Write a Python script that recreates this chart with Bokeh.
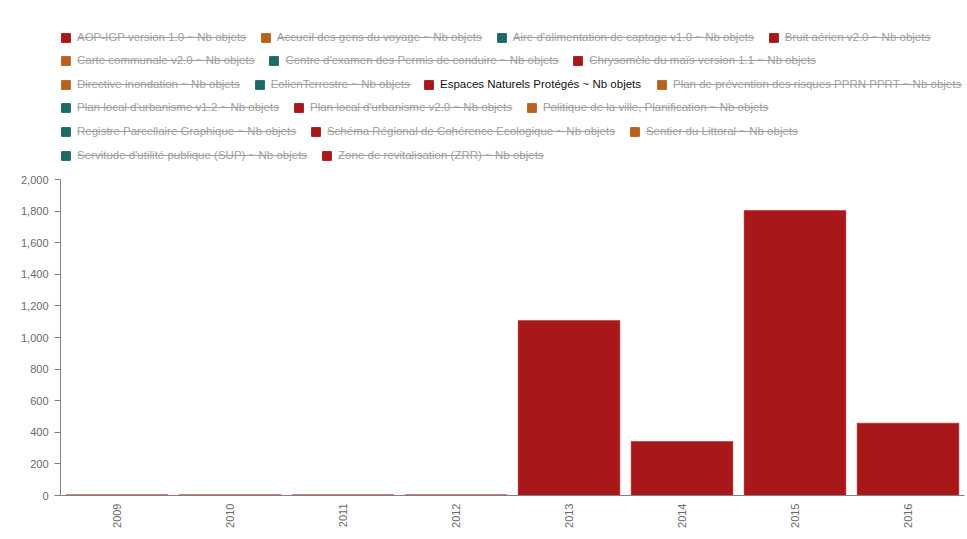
from bokeh.plotting import figure
from bokeh.layouts import column
from bokeh.models import (FactorRange, Legend, LegendItem, NumeralTickFormatter,
                          ColumnDataSource, SingleIntervalTicker, Range1d)
from bokeh.embed import file_html
from bokeh.resources import INLINE
import math

# ---- data ----
years = ["2009", "2010", "2011", "2012", "2013", "2014", "2015", "2016"]
espaces_values = [5, 5, 5, 5, 1108, 342, 1804, 458]

series_names = [
    "AOP-IGP version 1.0 ~ Nb objets",
    "Accueil des gens du voyage ~ Nb objets",
    "Aire d'alimentation de captage v1.0 ~ Nb objets",
    "Bruit aérien v2.0 ~ Nb objets",
    "Carte communale v2.0 ~ Nb objets",
    "Centre d'examen des Permis de conduire ~ Nb objets",
    "Chrysomèle du maïs version 1.1 ~ Nb objets",
    "Directive inondation ~ Nb objets",
    "EolienTerrestre ~ Nb objets",
    "Espaces Naturels Protégés ~ Nb objets",
    "Plan de prévention des risques PPRN PPRT ~ Nb objets",
    "Plan local d'urbanisme v1.2 ~ Nb objets",
    "Plan local d'urbanisme v2.0 ~ Nb objets",
    "Politique de la ville, Planification ~ Nb objets",
    "Registre Parcellaire Graphique ~ Nb objets",
    "Schéma Régional de Cohérence Ecologique ~ Nb objets",
    "Sentier du Littoral ~ Nb objets",
    "Servitude d'utilité publique (SUP) ~ Nb objets",
    "Zone de revitalisation (ZRR) ~ Nb objets",
]
visible_series = "Espaces Naturels Protégés ~ Nb objets"

palette = ["#a8181b", "#b8621f", "#1a6b69"]

# legend rows (as laid out in the reference)
legend_rows = [
    [0, 1, 2, 3],
    [4, 5, 6],
    [7, 8, 9, 10],
    [11, 12, 13],
    [14, 15, 16],
    [17, 18],
]

FONT = "Liberation Sans"
FS = 11.5
W = 966
LEG_H = 167
GLYPH_W, STANDOFF, SPACING = 11, 6, 14
GRAY = "#a0a0a0"

# Arial / Liberation Sans advance widths (1/1000 em) for strike-through lengths
_AW = {}
for ch in "abdeghnopqu0123456789":
    _AW[ch] = 556
for ch in "ckszvxy":
    _AW[ch] = 500
for ch in "fjt.,:; ":
    _AW[ch] = 278
_AW.update({"i": 222, "j": 222, "l": 222, "m": 833, "r": 333, "w": 722,
            "A": 667, "B": 667, "C": 722, "D": 722, "E": 667, "F": 611, "G": 778,
            "H": 722, "I": 278, "J": 500, "K": 667, "L": 556, "M": 833, "N": 722,
            "O": 778, "P": 667, "Q": 778, "R": 722, "S": 667, "T": 611, "U": 722,
            "V": 667, "W": 944, "X": 667, "Y": 667, "Z": 611, "-": 333, "~": 584,
            "'": 191, "(": 333, ")": 333, "é": 556, "è": 556, "ï": 222, "É": 667})


def text_w(s):
    return sum(_AW.get(c, 556) for c in s) * FS / 1000.0


# ---------- legend strip ----------
lf = figure(width=W, height=LEG_H, x_range=Range1d(0, 904), y_range=Range1d(0, LEG_H),
            output_backend="svg", toolbar_location=None,
            min_border=0, min_border_left=60, min_border_right=2,
            min_border_top=0, min_border_bottom=0)
lf.axis.visible = False
lf.grid.visible = False
lf.outline_line_color = None
lf.background_fill_color = "white"
lf.border_fill_color = "white"

leg_renderers = {}
for i, name in enumerate(series_names):
    color = palette[i % 3]
    if name == visible_series:
        src = ColumnDataSource(dict(x=years, top=[float("nan")] * len(years)))
    else:
        src = ColumnDataSource(dict(x=[float("nan")], top=[float("nan")]))
    leg_renderers[name] = lf.vbar(x="x", top="top", width=0.9, source=src,
                                  fill_color=color, line_color=color)

row_centers = [130, 107, 83, 60, 36, 12]  # px above the strip bottom
strike_x0, strike_x1, strike_y = [], [], []


def add_legend(idxs, x, yc, color, struck):
    items = [LegendItem(label=series_names[i], renderers=[leg_renderers[series_names[i]]])
             for i in idxs]
    lg = Legend(items=items, orientation="horizontal", location=(x, yc - 6),
                glyph_width=GLYPH_W, glyph_height=11, label_height=11,
                label_standoff=STANDOFF, spacing=SPACING, padding=0, margin=0,
                border_line_alpha=0, background_fill_alpha=0, label_text_font=FONT,
                label_text_font_size=f"{FS}px", label_text_color=color,
                click_policy="none")
    lf.add_layout(lg, "center")
    if struck:
        cx = x
        for i in idxs:
            t0 = cx + GLYPH_W + STANDOFF
            w = text_w(series_names[i])
            strike_x0.append(t0)
            strike_x1.append(t0 + w)
            strike_y.append(yc)
            cx = t0 + w + SPACING


for r_i, idxs in enumerate(legend_rows):
    yc = row_centers[r_i]
    if r_i == 2:
        add_legend(idxs[:2], 0, yc, GRAY, True)
        add_legend([idxs[2]], 363, yc, "#111111", False)
        add_legend([idxs[3]], 596, yc, GRAY, True)
    else:
        add_legend(idxs, 0, yc, GRAY, True)

lf.segment(x0=strike_x0, y0=strike_y, x1=strike_x1, y1=strike_y,
           line_color=GRAY, line_width=1)

# ---------- bar chart ----------
p = figure(
    width=W, height=366,
    x_range=FactorRange(*years, range_padding=0),
    y_range=Range1d(0, 2000),
    output_backend="svg", toolbar_location=None,
    min_border_left=60, min_border_right=2, min_border_top=12, min_border_bottom=38,
    background_fill_color="white", border_fill_color="white",
)
p.outline_line_color = None
p.grid.visible = False

src = ColumnDataSource(dict(x=years, top=espaces_values))
vi = series_names.index(visible_series)
p.vbar(x="x", top="top", width=0.9, source=src, fill_color=palette[vi % 3],
       line_color=palette[vi % 3], line_width=0.5)

p.yaxis.ticker = SingleIntervalTicker(interval=200)
p.yaxis.formatter = NumeralTickFormatter(format="0,0")
for ax in (p.xaxis, p.yaxis):
    ax.axis_line_color = "#808080"
    ax.major_tick_line_color = "#808080"
    ax.minor_tick_line_color = None
    ax.major_label_text_font = FONT
    ax.major_label_text_font_size = "11px"
    ax.major_label_text_color = "#6a6a6a"
p.yaxis.major_tick_out = 6
p.yaxis.major_tick_in = 0
p.yaxis.major_label_standoff = 6
p.xaxis.major_tick_out = 0
p.xaxis.major_tick_in = 0
p.xaxis.major_label_orientation = math.pi / 2
p.xaxis.major_label_standoff = 8

layout = column(lf, p, spacing=0)
open("out.html", "w").write(file_html(layout, INLINE))
